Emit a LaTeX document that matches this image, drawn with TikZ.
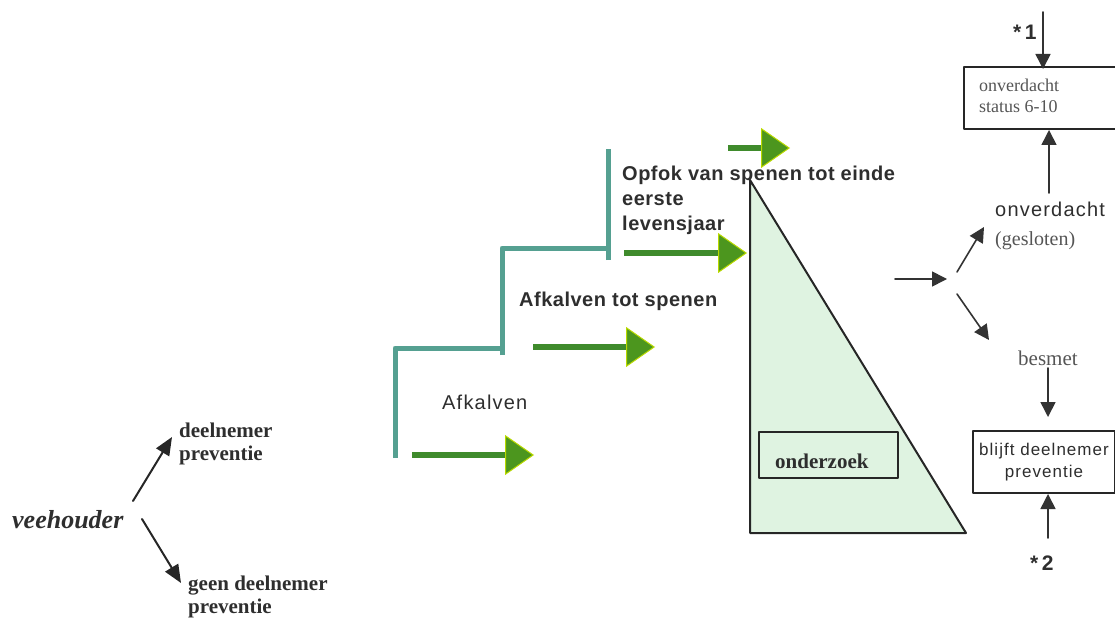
\documentclass[tikz,border=0pt]{standalone}
\usepackage{fontspec}
\setmainfont{Liberation Serif}
\setsansfont{Liberation Sans}
\newfontfamily\helvsp[LetterSpace=2.5]{Liberation Sans}
\newfontfamily\helvwide[LetterSpace=6]{Liberation Sans}
\usepackage{tikz}
\usetikzlibrary{arrows.meta}
\definecolor{stairteal}{HTML}{55A091}
\definecolor{shaftgreen}{HTML}{3F8B2C}
\definecolor{headgreen}{HTML}{4C961E}
\definecolor{headrim}{HTML}{B9D900}
\definecolor{wedgefill}{HTML}{DFF3E1}
\definecolor{inkgray}{HTML}{2E2E2E}
\definecolor{softgray}{HTML}{555555}
\newcommand{\ftvee}{\fontsize{26}{30}\selectfont\bfseries\itshape}
\newcommand{\ftdeel}{\fontsize{21}{23}\selectfont\bfseries}
\newcommand{\ftfase}{\helvsp\fontsize{20}{25.5}\selectfont\bfseries}
\newcommand{\ftfaseb}{\helvwide\fontsize{20}{24}\selectfont}
\newcommand{\ftbox}{\fontsize{18}{21}\selectfont}
\tikzset{
  every picture/.style={line join=round, line cap=round, >=Stealth},
  stair/.style={stairteal, line width=5pt, line cap=butt},
  grarrow/.style={shaftgreen, line width=6pt, line cap=butt,
    -{Triangle[length=29pt,width=40pt,fill=headgreen,color=headrim,line width=1pt]}},
  blk/.style={black!85, line width=2pt, -{Triangle[length=18pt,width=15pt]}},
  gry/.style={black!80, line width=1.6pt, -{Triangle[length=15pt,width=15pt]}},
  kader/.style={draw=black!85, line width=2pt},
  lbl/.style={inner sep=0pt, anchor=base west, text=inkgray},
}

\begin{document}
\begin{tikzpicture}[x=1pt,y=-1pt]
\useasboundingbox (0,0) rectangle (1115,620);
% veehouder en keuze
\node[lbl,font=\ftvee] (vee) at (12,528) {veehouder};
\node[lbl,font=\ftdeel,align=left] (deel) at (179,460) {deelnemer\\preventie};
\node[lbl,font=\ftdeel,align=left] (geen) at (188,613) {geen deelnemer\\preventie};
\coordinate (vee-op) at (133,501);
\coordinate (vee-neer) at (142,519);
\coordinate (deel-in) at (172,437);
\coordinate (geen-in) at (181,583);
\draw[blk] (vee-op) -- (deel-in);
\draw[blk] (vee-neer) -- (geen-in);

% fasen (trap)
\draw[stair] (395,458) -- (395,348) -- (502,348);
\draw[stair] (502,355) -- (502,248) -- (608,248);
\draw[stair] (608,260) -- (608,149);
\node[lbl,font=\ftfaseb] (afk) at (442,409) {Afkalven};
\node[lbl,font=\ftfase] (afkspn) at (519,306) {Afkalven tot spenen};
\node[lbl,font=\ftfase,align=left] (opfok) at (622,231) {Opfok van spenen tot einde\\eerste\\levensjaar};

% groene pijlen
\coordinate (g1a) at (412,455); \coordinate (g1b) at (534,455);
\coordinate (g2a) at (533,347); \coordinate (g2b) at (655,347);
\coordinate (g3a) at (624,253); \coordinate (g3b) at (747,253);
\coordinate (g4a) at (728,148); \coordinate (g4b) at (790,148);
\foreach \i in {1,...,4}
  \draw[grarrow] (g\i a) -- (g\i b);

% onderzoek
\draw[kader,fill=wedgefill] (750,180) -- (750,533) -- (966,533) -- cycle;
\node[kader,anchor=north west,minimum width=139,minimum height=46,inner sep=0pt] (ondbox) at (758,431) {};
\node[lbl,font=\ftdeel] (ond) at (775,468) {onderzoek};

% uitslag
\coordinate (uit-a) at (895,279);
\coordinate (uit-b) at (947,279);
\draw[gry] (uit-a) -- (uit-b);
\coordinate (split-op) at (957,272);
\coordinate (split-neer) at (957,294);
\coordinate (onv-in) at (984,227);
\coordinate (bes-in) at (989,340);
\draw[gry] (split-op) -- (onv-in);
\draw[gry] (split-neer) -- (bes-in);
\node[lbl,font=\ftfaseb] (onv) at (995,217) {onverdacht};
\node[lbl,font=\fontsize{20}{24}\selectfont,text=softgray] (geslo) at (995,245) {(gesloten)};
\node[lbl,font=\fontsize{21}{24}\selectfont,text=softgray] (besmet) at (1018,365) {besmet};

% status vakken
\node[kader,anchor=north west,minimum width=152,minimum height=62,inner sep=0pt] (statusbox) at (963,66) {};
\node[lbl,font=\ftbox,align=left,text=softgray] (statustxt) at (979,113) {onverdacht\\status 6-10};
\node[kader,anchor=north west,minimum width=142,minimum height=62,inner sep=0pt,align=center,
  font=\helvwide\fontsize{17}{22}\selectfont,text=inkgray] (blijft) at (972,430) {blijft deelnemer\\preventie};
\node[lbl,font=\sffamily\bfseries\fontsize{21}{24}\selectfont] (ster1) at (1013,40) {*\,1};
\node[lbl,font=\sffamily\bfseries\fontsize{21}{24}\selectfont] (ster2) at (1030,570) {*\,2};
\coordinate (ster1-top) at (1043,12);
\coordinate (onv-top) at (1049,193);
\coordinate (bes-onder) at (1048,368);
\coordinate (bes-uit) at (1048,417);
\coordinate (ster2-top) at (1048,538);
\draw[gry] (ster1-top) -- ([yshift=-3pt]ster1-top |- statusbox.north);
\draw[gry] (onv-top) -- (onv-top |- statusbox.south);
\draw[gry] (bes-onder) -- (bes-uit);
\draw[gry] (ster2-top) -- (ster2-top |- blijft.south);
\end{tikzpicture}
\end{document}
